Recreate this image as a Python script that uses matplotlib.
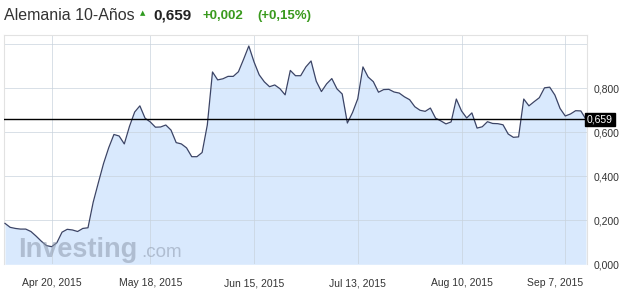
import numpy as np
import pandas as pd
import matplotlib
matplotlib.use("Agg")
import matplotlib.pyplot as plt
from matplotlib.transforms import ScaledTranslation

plt.rcParams['font.family'] = ['Liberation Sans', 'DejaVu Sans']

# -------------------------------------------------
# Data
# -------------------------------------------------
dates = pd.bdate_range("2015-04-07", "2015-09-11")
dates = dates[dates != pd.Timestamp("2015-05-01")]

yields = [
    0.186, 0.168, 0.163, 0.160, 0.160, 0.149, 0.128, 0.105, 0.085, 0.080,
    0.098, 0.146, 0.159, 0.156, 0.149, 0.163, 0.166, 0.282, 0.371, 0.458,
    0.530, 0.590, 0.583, 0.547, 0.627, 0.692, 0.720, 0.664, 0.647, 0.623,
    0.624, 0.633, 0.610, 0.553, 0.547, 0.529, 0.489, 0.489, 0.508, 0.633,
    0.874, 0.838, 0.843, 0.854, 0.854, 0.875, 0.932, 0.992, 0.920, 0.861,
    0.829, 0.807, 0.815, 0.798, 0.770, 0.881, 0.857, 0.857, 0.897, 0.924,
    0.832, 0.785, 0.820, 0.844, 0.797, 0.774, 0.642, 0.690, 0.752, 0.897,
    0.851, 0.830, 0.782, 0.794, 0.795, 0.783, 0.778, 0.761, 0.748, 0.716,
    0.700, 0.695, 0.710, 0.664, 0.652, 0.638, 0.647, 0.751, 0.697, 0.665,
    0.688, 0.619, 0.625, 0.648, 0.640, 0.639, 0.634, 0.592, 0.577, 0.579,
    0.751, 0.720, 0.739, 0.757, 0.802, 0.805, 0.769, 0.708, 0.674, 0.683,
    0.698, 0.697, 0.659,
]

tick_dates = ["2015-04-20", "2015-05-18", "2015-06-15",
              "2015-07-13", "2015-08-10", "2015-09-07"]
y_ticks = [0.0, 0.2, 0.4, 0.6, 0.8]
y_grid = [0.2, 0.4, 0.6, 0.8, 1.0]

title = "Alemania 10-Años"
last_value = "0,659"
change = "+0,002"
change_pct = "(+0,15%)"

# -------------------------------------------------
# Figure
# -------------------------------------------------
W, H = 639, 308
fig = plt.figure(figsize=(W / 100, H / 100), dpi=100)
ax = fig.add_axes([4 / W, 1 - 264.3 / H, 583 / W, (264.3 - 35) / H])

x = np.arange(len(yields))
ax.fill_between(x, yields, 0, color="#d9e9fd", zorder=1, lw=0)
ax.plot(x, yields, color="#3b4466", lw=0.9, zorder=4)

tick_pos = [dates.get_loc(pd.Timestamp(d)) for d in tick_dates]
for p in tick_pos:
    ax.axvline(p, color="#c8d2dc", lw=0.7, alpha=0.7, zorder=2)
for g in y_grid:
    ax.axhline(g, color="#c8d2dc", lw=0.7, alpha=0.7, zorder=2)

# current value line
ax.axhline(yields[-1], color="black", lw=1.0, zorder=5)

ax.set_xlim(-0.19, len(yields) - 1 + 0.19)
ax.set_ylim(0, 1.042)

ax.set_xticks(tick_pos)
ax.set_xticklabels([f"{pd.Timestamp(d):%b} {pd.Timestamp(d).day}, {pd.Timestamp(d).year}"
                    for d in tick_dates])
ax.set_yticks(y_ticks)
ax.set_yticklabels([f"{v:.3f}".replace(".", ",") for v in y_ticks])
ax.yaxis.tick_right()
ax.tick_params(axis="both", length=0, labelsize=7.5, colors="#333333")
ax.tick_params(axis="x", pad=10)
ax.tick_params(axis="y", pad=5)

# last x label sits inside the plot edge
lbl = ax.get_xticklabels()[-1]
lbl.set_transform(lbl.get_transform() + ScaledTranslation(-10 / 100, 0, fig.dpi_scale_trans))

for s in ["top", "left", "right"]:
    ax.spines[s].set_color("#e2e2e2")
    ax.spines[s].set_linewidth(0.8)
ax.spines["bottom"].set_visible(False)

# value box on the right axis
ax.text(1.0, yields[-1], last_value, transform=ax.get_yaxis_transform(),
        ha="left", va="center", color="white", fontsize=7.5, zorder=6,
        bbox=dict(boxstyle="square,pad=0.15", fc="black", ec="black"))

# watermark
fig.text(18 / W, 1 - 257 / H, "Investing", fontsize=19.5, fontweight="bold",
         color="#8e9aad", alpha=0.55, ha="left", va="baseline")
fig.text(141 / W, 1 - 257 / H, ".com", fontsize=13.5,
         color="#8e9aad", alpha=0.55, ha="left", va="baseline")

# header
fig.text(4 / W, 1 - 16 / H, title, fontsize=11.5, color="#333333",
         ha="left", va="center")
fig.text(143 / W, 1 - 13 / H, "▲", fontsize=5, color="#2f9a1f",
         ha="center", va="center", family=["DejaVu Sans"])
fig.text(153 / W, 1 - 16 / H, last_value, fontsize=11, fontweight="bold",
         color="#222222", ha="left", va="center")
fig.text(203 / W, 1 - 16 / H, change, fontsize=9.5, fontweight="bold",
         color="#3a9a1e", ha="left", va="center")
fig.text(257 / W, 1 - 16 / H, change_pct, fontsize=9.5, fontweight="bold",
         color="#3a9a1e", ha="left", va="center")

fig.savefig("out.png", dpi=100)
